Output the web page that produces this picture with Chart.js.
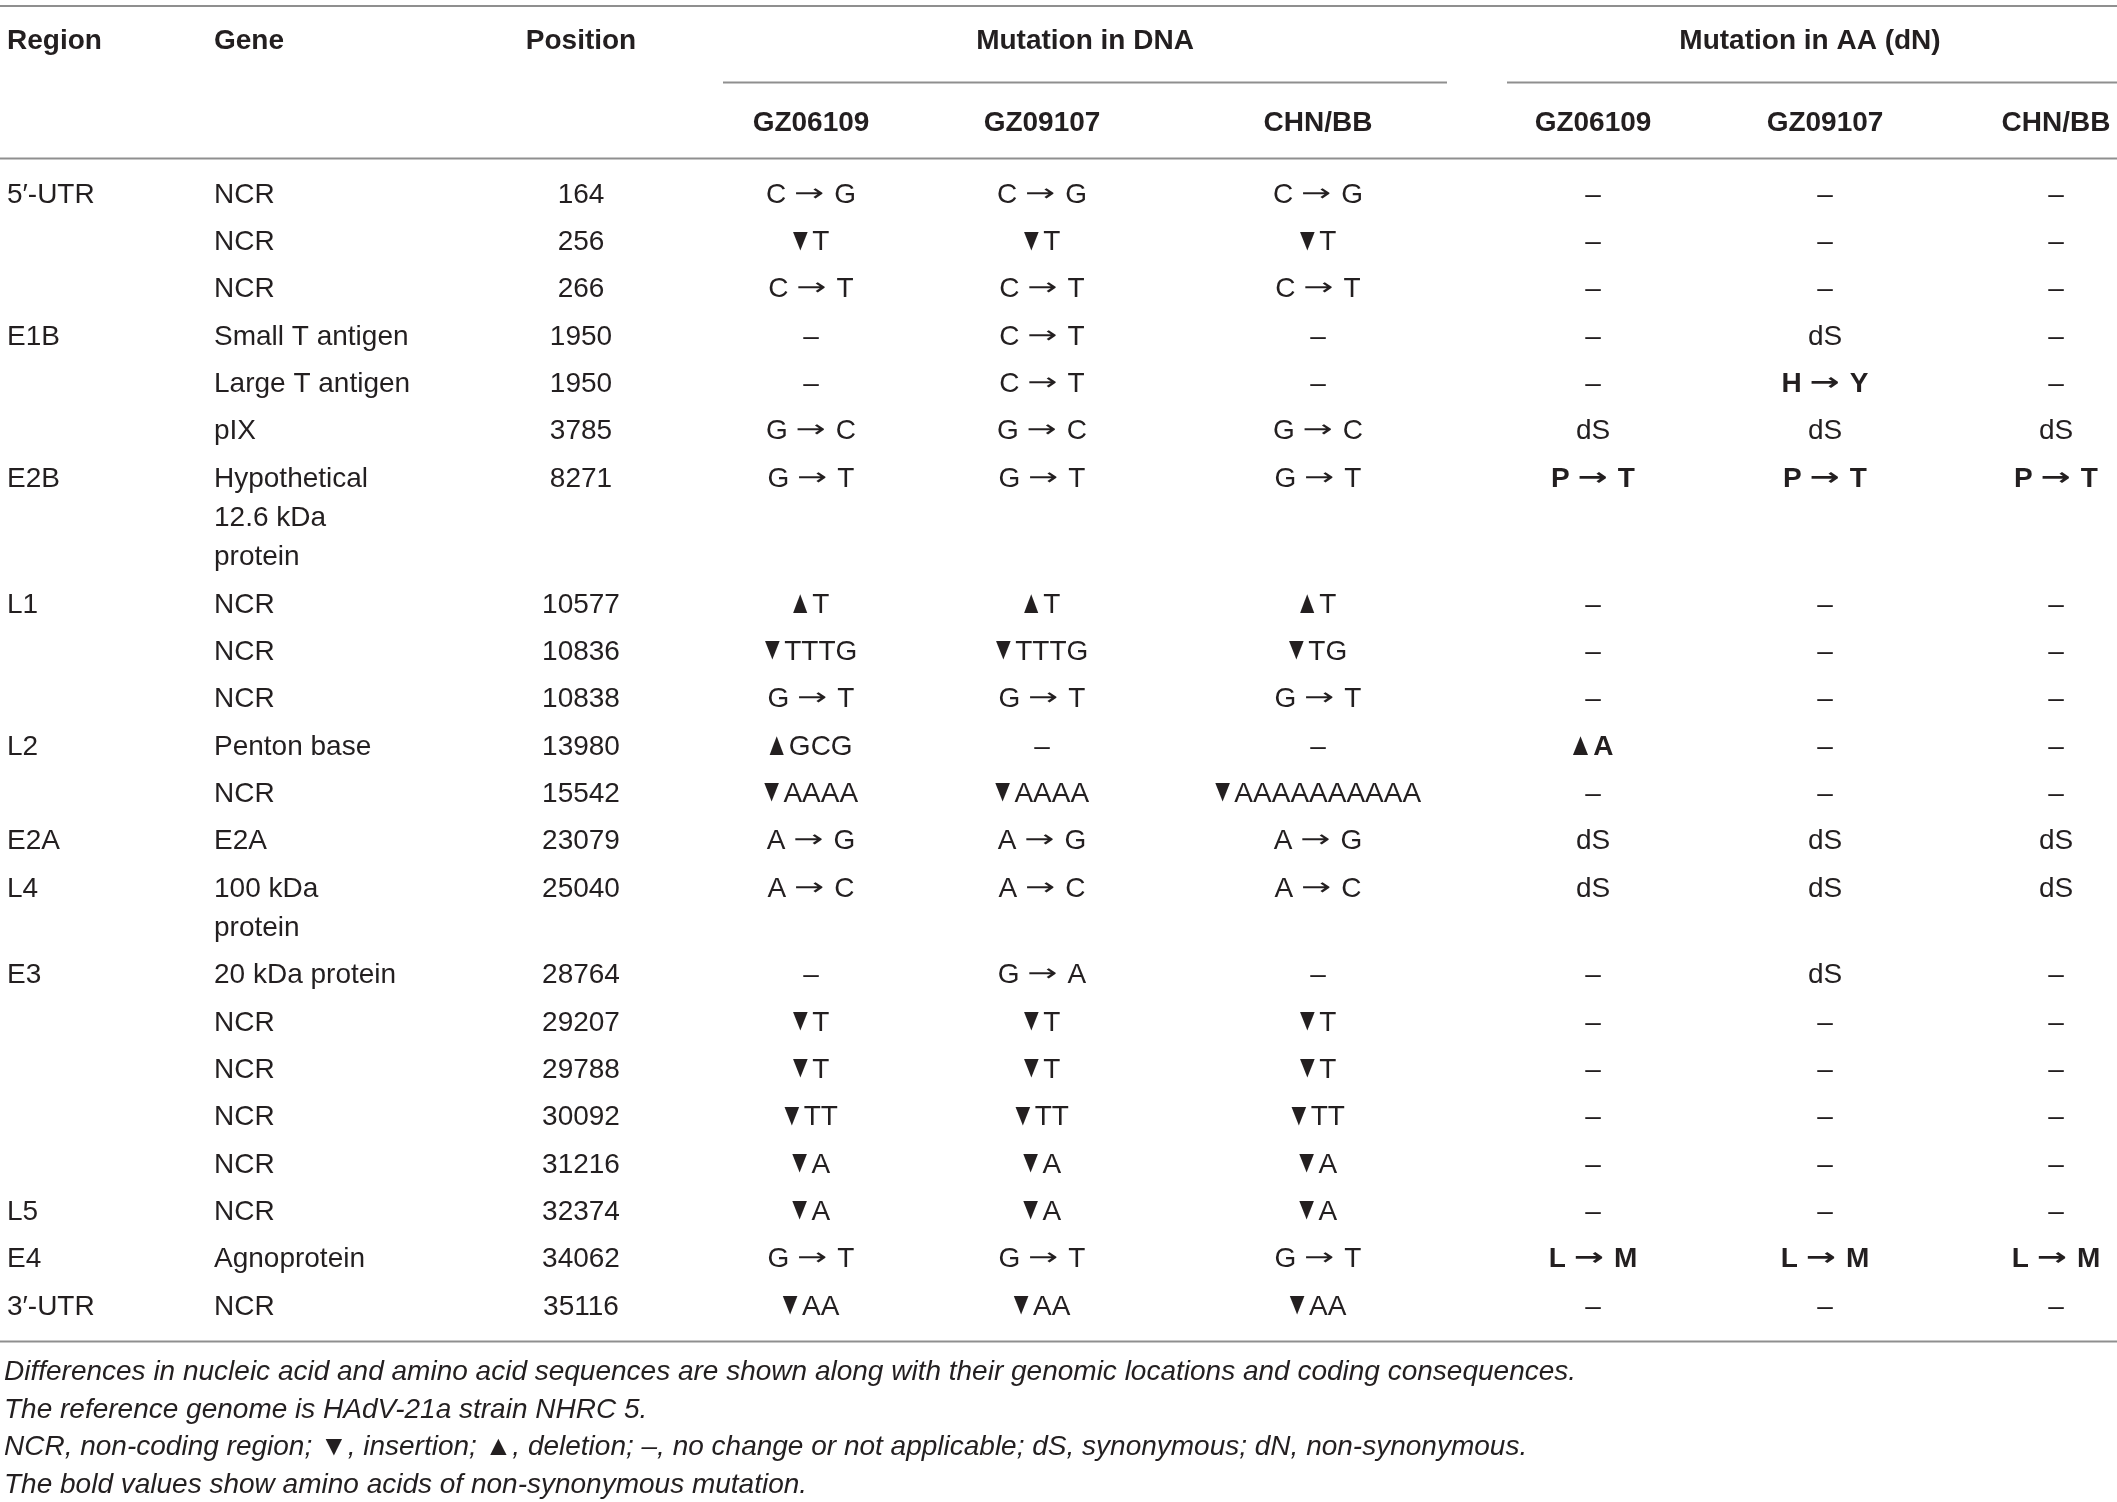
<!DOCTYPE html>
<html>
<head>
<meta charset="utf-8">
<script src="https://cdn.jsdelivr.net/npm/chart.js@4.4.1/dist/chart.umd.min.js"></script>
<style>
html,body{margin:0;padding:0;background:#fff;}
#wrap{width:2117px;height:1502px;position:relative;}
</style>
</head>
<body>
<div id="wrap"><canvas id="c"></canvas></div>
<script>
// ---------------- DATA ----------------
const headerTop = ['Region', 'Gene', 'Position'];
const groupHeaders = ['Mutation in DNA', 'Mutation in AA (dN)'];
const strains = ['GZ06109', 'GZ09107', 'CHN/BB'];

const regions = ['5\u2032-UTR','','','E1B','','','E2B','L1','','','L2','','E2A','L4','E3','','','','','L5','E4','3\u2032-UTR'];
const genes = ['NCR','NCR','NCR','Small T antigen','Large T antigen','pIX','Hypothetical\n12.6 kDa\nprotein','NCR','NCR','NCR','Penton base','NCR','E2A','100 kDa\nprotein','20 kDa protein','NCR','NCR','NCR','NCR','NCR','Agnoprotein','NCR'];
const positions = ['164','256','266','1950','1950','3785','8271','10577','10836','10838','13980','15542','23079','25040','28764','29207','29788','30092','31216','32374','34062','35116'];

const dnaGZ06109 = ['C \u2192 G','\u25BCT','C \u2192 T','\u2013','\u2013','G \u2192 C','G \u2192 T','\u25B2T','\u25BCTTTG','G \u2192 T','\u25B2GCG','\u25BCAAAA','A \u2192 G','A \u2192 C','\u2013','\u25BCT','\u25BCT','\u25BCTT','\u25BCA','\u25BCA','G \u2192 T','\u25BCAA'];
const dnaGZ09107 = ['C \u2192 G','\u25BCT','C \u2192 T','C \u2192 T','C \u2192 T','G \u2192 C','G \u2192 T','\u25B2T','\u25BCTTTG','G \u2192 T','\u2013','\u25BCAAAA','A \u2192 G','A \u2192 C','G \u2192 A','\u25BCT','\u25BCT','\u25BCTT','\u25BCA','\u25BCA','G \u2192 T','\u25BCAA'];
const dnaCHNBB   = ['C \u2192 G','\u25BCT','C \u2192 T','\u2013','\u2013','G \u2192 C','G \u2192 T','\u25B2T','\u25BCTG','G \u2192 T','\u2013','\u25BCAAAAAAAAAA','A \u2192 G','A \u2192 C','\u2013','\u25BCT','\u25BCT','\u25BCTT','\u25BCA','\u25BCA','G \u2192 T','\u25BCAA'];

const aaGZ06109 = ['\u2013','\u2013','\u2013','\u2013','\u2013','dS','P \u2192 T','\u2013','\u2013','\u2013','\u25B2A','\u2013','dS','dS','\u2013','\u2013','\u2013','\u2013','\u2013','\u2013','L \u2192 M','\u2013'];
const aaGZ09107 = ['\u2013','\u2013','\u2013','dS','H \u2192 Y','dS','P \u2192 T','\u2013','\u2013','\u2013','\u2013','\u2013','dS','dS','dS','\u2013','\u2013','\u2013','\u2013','\u2013','L \u2192 M','\u2013'];
const aaCHNBB   = ['\u2013','\u2013','\u2013','\u2013','\u2013','dS','P \u2192 T','\u2013','\u2013','\u2013','\u2013','\u2013','dS','dS','\u2013','\u2013','\u2013','\u2013','\u2013','\u2013','L \u2192 M','\u2013'];

const footnotes = [
  'Differences in nucleic acid and amino acid sequences are shown along with their genomic locations and coding consequences.',
  'The reference genome is HAdV-21a strain NHRC 5.',
  'NCR, non-coding region; \u25BC, insertion; \u25B2, deletion; \u2013, no change or not applicable; dS, synonymous; dN, non-synonymous.',
  'The bold values show amino acids of non-synonymous mutation.'
];

// ---------------- LAYOUT ----------------
const W = 2117, H = 1502;
const FONT = '"Liberation Sans", Arial, Helvetica, sans-serif';
const SYM = '"DejaVu Sans", sans-serif';
const FS = 28;
const TEXT = '#231f20';
const RULE = '#8f8f8f';
const L = {
  topRule: 6, headY: 41.5, groupRule: 82.5, subY: 123, headRule: 158.5,
  firstRow: 195, rowStep: 47.35, lineH: 39.2, bottomRule: 1341.5,
  footY: 1372.5, footStep: 37.6
};
const SYMSTYLE = {
  arrowLen: 27, arrowPadL: 1.5, arrowPadR: 4,
  triH: 19, triW: 15, triGap: 4.5
};
const cols = [
  {arr: regions,    x: 7,    align: 'left'},
  {arr: genes,      x: 214,  align: 'left'},
  {arr: positions,  x: 581,  align: 'center'},
  {arr: dnaGZ06109, x: 811,  align: 'center'},
  {arr: dnaGZ09107, x: 1042, align: 'center'},
  {arr: dnaCHNBB,   x: 1318, align: 'center'},
  {arr: aaGZ06109,  x: 1593, align: 'center', aa: true},
  {arr: aaGZ09107,  x: 1825, align: 'center', aa: true},
  {arr: aaCHNBB,    x: 2056, align: 'center', aa: true}
];
const groupSpans = [[723, 1447], [1507, 2117]];

const rowY = [];
(function(){
  let y = L.firstRow;
  for (let i = 0; i < genes.length; i++) {
    rowY.push(y);
    const n = genes[i].split('\n').length;
    y += L.rowStep + (n - 1) * L.lineH;
  }
})();

const datasets = cols.map((c, ci) => ({
  label: 'col' + ci,
  data: c.arr.map((t, i) => ({x: c.x, y: rowY[i], t: t,
    bold: !!c.aa && t !== '\u2013' && t !== 'dS'})),
  pointRadius: 0, pointHoverRadius: 0, showLine: false,
  align: c.align
}));

// ---- rich text: letters in the body font, arrows/triangles sized like the original ----
function buildSegs(ctx, text, bold) {
  const style = bold ? 'bold ' : '';
  const segs = [];
  let buf = '';
  const flush = () => { if (buf) { segs.push({kind: 'txt', t: buf, font: style + FS + 'px ' + FONT}); buf = ''; } };
  for (const ch of text) {
    if (ch === '\u2192' || ch === '\u25BC' || ch === '\u25B2') { flush(); segs.push({kind: ch === '\u2192' ? 'arrow' : 'tri', t: ch}); }
    else buf += ch;
  }
  flush();
  ctx.textBaseline = 'alphabetic';
  let total = 0;
  segs.forEach(s => {
    if (s.kind === 'txt') {
      ctx.font = s.font;
      s.w = ctx.measureText(s.t).width;
    } else if (s.kind === 'arrow') {
      s.font = style + '24px ' + SYM;
      ctx.font = s.font;
      const m = ctx.measureText(s.t);
      const gw = m.actualBoundingBoxRight + m.actualBoundingBoxLeft;
      s.sx = SYMSTYLE.arrowLen / gw;
      s.left = m.actualBoundingBoxLeft;
      s.asc = m.actualBoundingBoxAscent; s.desc = m.actualBoundingBoxDescent;
      s.padL = SYMSTYLE.arrowPadL;
      s.w = SYMSTYLE.arrowPadL + SYMSTYLE.arrowLen + SYMSTYLE.arrowPadR;
    } else {
      ctx.font = '100px ' + FONT;
      const m0 = ctx.measureText(s.t);
      const h0 = m0.actualBoundingBoxAscent + m0.actualBoundingBoxDescent;
      const size = 100 * SYMSTYLE.triH / h0;
      s.font = size + 'px ' + FONT;
      ctx.font = s.font;
      const m = ctx.measureText(s.t);
      const gw = m.actualBoundingBoxRight + m.actualBoundingBoxLeft;
      s.sx = (bold ? SYMSTYLE.triW + 1 : SYMSTYLE.triW) / gw;
      s.left = m.actualBoundingBoxLeft;
      s.asc = m.actualBoundingBoxAscent; s.desc = m.actualBoundingBoxDescent;
      s.padL = 0;
      s.w = gw * s.sx + SYMSTYLE.triGap;
    }
    total += s.w;
  });
  return {segs, total};
}
function drawRich(ctx, text, x, y, align, bold) {
  const {segs, total} = buildSegs(ctx, text, bold);
  // cap-height middle of the body font when drawn with a 'middle' baseline at y
  ctx.font = (bold ? 'bold ' : '') + FS + 'px ' + FONT;
  ctx.textBaseline = 'middle';
  const mh = ctx.measureText('H');
  const capMid = y + (mh.actualBoundingBoxDescent - mh.actualBoundingBoxAscent) / 2;
  let cx = align === 'center' ? x - total / 2 : (align === 'right' ? x - total : x);
  ctx.textAlign = 'left';
  segs.forEach(s => {
    ctx.font = s.font;
    if (s.kind === 'txt') {
      ctx.textBaseline = 'middle';
      ctx.fillText(s.t, cx, y);
    } else {
      ctx.textBaseline = 'alphabetic';
      const by = capMid + (s.asc - s.desc) / 2;
      ctx.save();
      ctx.translate(cx + s.padL, by);
      ctx.scale(s.sx, 1);
      ctx.fillText(s.t, s.left, 0);
      ctx.restore();
    }
    cx += s.w;
  });
  ctx.textBaseline = 'middle';
}

const tablePlugin = {
  id: 'tablePlugin',
  afterDatasetsDraw(chart) {
    const ctx = chart.ctx;
    const xs = chart.scales.x, ys = chart.scales.y;
    const px = v => xs.getPixelForValue(v);
    const py = v => ys.getPixelForValue(v);
    const lh = Math.abs(py(L.lineH) - py(0));
    ctx.save();
    ctx.strokeStyle = RULE;
    ctx.lineWidth = 2;
    const hline = (x0, x1, y) => { ctx.beginPath(); ctx.moveTo(px(x0), py(y)); ctx.lineTo(px(x1), py(y)); ctx.stroke(); };
    hline(0, W, L.topRule);
    groupSpans.forEach(s => hline(s[0], s[1], L.groupRule));
    hline(0, W, L.headRule);
    hline(0, W, L.bottomRule);

    ctx.fillStyle = TEXT;
    ctx.textBaseline = 'middle';
    ctx.font = 'bold ' + FS + 'px ' + FONT;
    headerTop.forEach((h, i) => {
      ctx.textAlign = cols[i].align;
      ctx.fillText(h, px(cols[i].x), py(L.headY));
    });
    ctx.textAlign = 'center';
    groupSpans.forEach((s, i) => ctx.fillText(groupHeaders[i], px((s[0] + s[1]) / 2 - (i === 1 ? 2 : 0)), py(L.headY)));
    for (let g = 0; g < 2; g++) {
      strains.forEach((s, k) => {
        const c = cols[3 + g * 3 + k];
        ctx.fillText(s, px(c.x), py(L.subY));
      });
    }
    chart.data.datasets.forEach((ds, di) => {
      const meta = chart.getDatasetMeta(di);
      meta.data.forEach((el, j) => {
        const d = ds.data[j];
        if (!d.t) return;
        d.t.split('\n').forEach((ln, k) => drawRich(ctx, ln, el.x, el.y + k * lh, ds.align, d.bold));
      });
    });
    ctx.font = 'italic ' + FS + 'px ' + FONT;
    ctx.textAlign = 'left';
    ctx.textBaseline = 'middle';
    footnotes.forEach((f, i) => ctx.fillText(f, px(4), py(L.footY + i * L.footStep)));
    ctx.restore();
  }
};

new Chart(document.getElementById('c'), {
  type: 'scatter',
  data: {datasets: datasets},
  options: {
    responsive: true,
    maintainAspectRatio: false,
    animation: false,
    events: [],
    layout: {padding: 0},
    plugins: {legend: {display: false}, tooltip: {enabled: false}},
    scales: {
      x: {type: 'linear', min: 0, max: W, display: false},
      y: {type: 'linear', min: 0, max: H, reverse: true, display: false}
    }
  },
  plugins: [tablePlugin]
});
</script>
</body>
</html>
